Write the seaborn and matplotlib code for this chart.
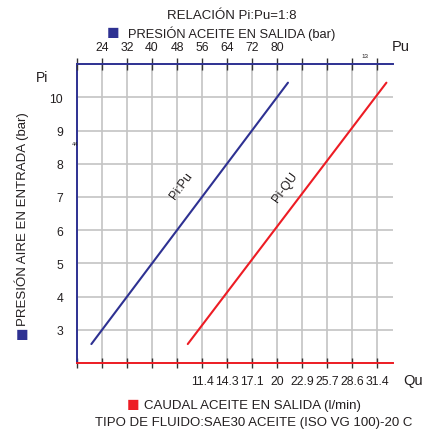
import matplotlib
matplotlib.use("Agg")
import matplotlib.pyplot as plt
import seaborn as sns

# Pi (bar) vs Pu (bar) / Qu (l/min)
pi_pu = [2.57, 10.44]
pu_vals = [20.6, 83.5]
pi_qu = [2.57, 10.44]
qu_vals = [9.8, 32.5]

pu_ticks = [24, 32, 40, 48, 56, 64, 72, 80]
qu_labels = ["11.4", "14.3", "17.1", "20", "22.9", "25.7", "28.6", "31.4"]
pi_ticks = [3, 4, 5, 6, 7, 8, 9, 10]

blue = "#2e3192"
red = "#ed1c24"
grid_c = "#c4c4c4"
txt_c = "#231f20"

sns.set_style("white")
plt.rcParams['font.family'] = ['Liberation Sans', 'DejaVu Sans']

fig = plt.figure(figsize=(4.24, 4.31), dpi=100)
ax = fig.add_axes([0.1816, 0.1555, 0.927 - 0.1816, 0.849 - 0.1555])

# bottom axis: Qu, step 20/7 per grid cell
q_step = 20 / 7
n_cells = 12.64
q_grid = [q_step * k for k in range(-1, 12)]
ax.set_xlim(-q_step, -q_step + n_cells * q_step)
ax.set_ylim(2, 11)
ax.set_xticks(q_grid)
ax.set_xticklabels([""] * 5 + qu_labels)
ax.set_yticks(range(2, 12))
ax.set_yticklabels([""] + [str(v) for v in pi_ticks] + [""])
ax.grid(True, color=grid_c, lw=1.2)
ax.set_axisbelow(True)

sns.lineplot(x=qu_vals, y=pi_qu, ax=ax, color=red, lw=1.5)

for s in ["top", "right"]:
    ax.spines[s].set_visible(False)
ax.spines["left"].set_color(blue)
ax.spines["left"].set_linewidth(1.4)
ax.spines["bottom"].set_color(red)
ax.spines["bottom"].set_linewidth(1.4)
ax.tick_params(axis="x", direction="inout", length=7, width=1, color="#333333",
               labelsize=8.8, labelcolor=txt_c, pad=5)
ax.tick_params(axis="y", direction="inout", length=8, width=1, color="#333333",
               labelsize=8.8, labelcolor=txt_c, pad=6)

# top axis: Pu = 8 * Pi
ax2 = ax.twiny()
ax2.set_xlim(16, 16 + n_cells * 8)
ax2.set_xticks([16 + 8 * k for k in range(0, 13)])
ax2.set_xticklabels([""] + [str(v) for v in pu_ticks] + [""] * 4)
sns.lineplot(x=pu_vals, y=pi_pu, ax=ax2, color=blue, lw=1.5)
for s in ["bottom", "left", "right"]:
    ax2.spines[s].set_visible(False)
ax2.spines["top"].set_color(blue)
ax2.spines["top"].set_linewidth(1.4)
ax2.tick_params(axis="x", direction="inout", length=8, width=1, color="#333333",
                labelsize=8.8, labelcolor=txt_c, pad=4)
ax2.grid(False)

# line labels
ax.text(9.1, 7.35, "Pi:Pu", rotation=54, fontsize=9, color=txt_c, ha="center", va="center")
ax.text(20.9, 7.3, "Pi-QU", rotation=54, fontsize=9, color=txt_c, ha="center", va="center")

# axis names
fig.text(401 / 424, 1 - 47 / 431, "Pu", fontsize=10.5, color=txt_c, ha="center", va="center")
fig.text(413 / 424, 1 - 381 / 431, "Qu", fontsize=10.5, color=txt_c, ha="center", va="center")
fig.text(42 / 424, 1 - 78 / 431, "Pi", fontsize=10, color=txt_c, ha="center", va="center")
fig.text(365 / 424, 1 - 57 / 431, "13", fontsize=4.5, color=txt_c, ha="center", va="center")
fig.text(75 / 424, 1 - 145 / 431, "44", fontsize=4, color=txt_c, ha="center", va="center")

# titles and legends
fig.text(232 / 424, 1 - 16 / 431, "RELACIÓN Pi:Pu=1:8", fontsize=9.5, color=txt_c,
         ha="center", va="center")
fig.text(113 / 424, 1 - 34 / 431, "■", fontsize=15, color=blue, ha="center", va="center")
fig.text(128 / 424, 1 - 34 / 431, "PRESIÓN ACEITE EN SALIDA (bar)", fontsize=9.3,
         color=txt_c, ha="left", va="center")
fig.text(22 / 424, 1 - 336 / 431, "■", fontsize=15, color=blue, ha="center", va="center")
fig.text(22 / 424, 1 - 326 / 431, "PRESIÓN AIRE EN ENTRADA (bar)", fontsize=9.5,
         color=txt_c, ha="center", va="bottom", rotation=90)
fig.text(133 / 424, 1 - 406 / 431, "■", fontsize=15, color=red, ha="center", va="center")
fig.text(144 / 424, 1 - 406 / 431, "CAUDAL ACEITE EN SALIDA (l/min)", fontsize=9.5,
         color=txt_c, ha="left", va="center")
fig.text(254 / 424, 1 - 423 / 431, "TIPO DE FLUIDO:SAE30 ACEITE (ISO VG 100)-20 C",
         fontsize=9.5, color=txt_c, ha="center", va="center")

fig.savefig("out.png", dpi=100)
